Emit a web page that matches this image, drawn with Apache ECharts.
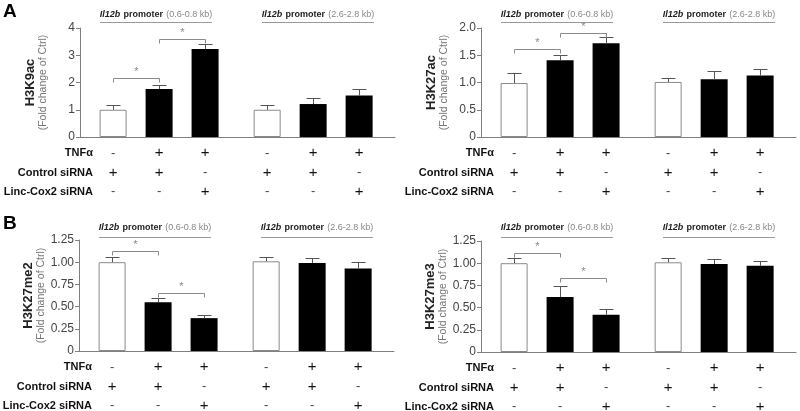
<!DOCTYPE html>
<html>
<head>
<meta charset="utf-8">
<style>
  html, body { margin: 0; padding: 0; background: #fff; }
  #chart { width: 800px; height: 411px; }
</style>
<script src="https://cdn.jsdelivr.net/npm/echarts@6/dist/echarts.min.js"></script>
</head>
<body>
<div id="chart"></div>
<script>
// treatment rows shown under the bars
const rowNames = ['TNFα', 'Control siRNA', 'Linc-Cox2 siRNA'];
const tnf = ['-', '+', '+', '-', '+', '+'];
const ctrlSirna = ['+', '+', '-', '+', '+', '-'];
const lincSirna = ['-', '-', '+', '-', '-', '+'];
const promoterRegions = ['(0.6-0.8 kb)', '(2.6-2.8 kb)'];

// fold change of Ctrl: mean and upper error
const h3k9acMean = [1.0, 1.76, 3.23, 1.0, 1.21, 1.52];
const h3k9acErr = [0.17, 0.15, 0.18, 0.17, 0.22, 0.24];
const h3k27acMean = [0.99, 1.41, 1.72, 1.01, 1.06, 1.13];
const h3k27acErr = [0.18, 0.1, 0.11, 0.08, 0.16, 0.12];
const h3k27me2Mean = [1.0, 0.55, 0.37, 1.01, 0.99, 0.93];
const h3k27me2Err = [0.06, 0.045, 0.03, 0.05, 0.06, 0.07];
const h3k27me3Mean = [1.0, 0.62, 0.42, 1.01, 0.99, 0.97];
const h3k27me3Err = [0.06, 0.12, 0.06, 0.05, 0.06, 0.06];

// significance brackets: [from bar, to bar, height]
const h3k9acSig = [[0, 1, 2.17], [1, 2, 3.6]];
const h3k27acSig = [[0, 1, 1.62], [1, 2, 1.91]];
const h3k27me2Sig = [[0, 1, 1.13], [1, 2, 0.65]];
const h3k27me3Sig = [[0, 1, 1.12], [1, 2, 0.83]];

// y tick labels
const h3k9acTicks = ['0', '1', '2', '3', '4'];
const h3k27acTicks = ['0', '0.5', '1.0', '1.5', '2.0'];
const h3k27me2Ticks = ['0', '0.25', '0.50', '0.75', '1.00', '1.25'];
const h3k27me3Ticks = ['0', '0.25', '0.50', '0.75', '1.00', '1.25'];

const panels = [
  { name: 'H3K9ac', mean: h3k9acMean, err: h3k9acErr, sig: h3k9acSig, ticks: h3k9acTicks, step: 1,
    letter: 'A', left: 80, top: 28, height: 109, headY: 15, lineY: 22 },
  { name: 'H3K27ac', mean: h3k27acMean, err: h3k27acErr, sig: h3k27acSig, ticks: h3k27acTicks, step: 0.5,
    letter: '', left: 481, top: 28, height: 109, headY: 15, lineY: 22 },
  { name: 'H3K27me2', mean: h3k27me2Mean, err: h3k27me2Err, sig: h3k27me2Sig, ticks: h3k27me2Ticks, step: 0.25,
    letter: 'B', left: 79, top: 240, height: 111, headY: 228, lineY: 237 },
  { name: 'H3K27me3', mean: h3k27me3Mean, err: h3k27me3Err, sig: h3k27me3Sig, ticks: h3k27me3Ticks, step: 0.25,
    letter: '', left: 481, top: 241, height: 111, headY: 228, lineY: 237 }
];

const GRID_W = 315;
const X_MAX = 6.85;
// bar slot position on the x axis, with a wider gap between the two promoter groups
function xPos(i) {
  return 0.72 + i + (i >= 3 ? 0.35 : 0);
}

const chart = echarts.init(document.getElementById('chart'), null, { renderer: 'canvas' });
const FONT = 'Liberation Sans, Arial, sans-serif';
const axisColor = '#808080';

const grid = [], xAxis = [], yAxis = [], series = [];
panels.forEach((p, k) => {
  grid.push({ left: p.left, top: p.top, width: GRID_W, height: p.height, containLabel: false });
  xAxis.push({
    type: 'value', gridIndex: k, min: 0, max: X_MAX,
    axisLine: { show: true, lineStyle: { color: axisColor } },
    axisTick: { show: false }, axisLabel: { show: false }, splitLine: { show: false }
  });
  yAxis.push({
    type: 'value', gridIndex: k, min: 0, max: p.step * (p.ticks.length - 1), interval: p.step,
    axisLine: { show: true, lineStyle: { color: axisColor } },
    axisTick: { show: true, inside: false, length: 4, lineStyle: { color: axisColor } },
    axisLabel: {
      fontFamily: FONT, fontSize: 12, color: '#444', margin: 5,
      formatter: (v) => p.ticks[Math.round(v / p.step)]
    },
    splitLine: { show: false },
    name: '{a|' + p.name + '}\n{b|(Fold change of Ctrl)}',
    nameLocation: 'middle', nameRotate: 90, nameGap: 31,
    nameTextStyle: {
      fontFamily: FONT,
      rich: {
        a: { fontFamily: FONT, fontSize: 13, fontWeight: 'bold', color: '#222', lineHeight: 14, align: 'center' },
        b: { fontFamily: FONT, fontSize: 10.5, color: '#777', lineHeight: 12, align: 'center' }
      }
    }
  });

  series.push({
    type: 'bar', xAxisIndex: k, yAxisIndex: k, barWidth: 27, silent: true,
    data: p.mean.map((v, i) => ({
      value: [xPos(i), v],
      itemStyle: i % 3 === 0
        ? { color: '#fff', borderColor: '#8a8a8a', borderWidth: 1 }
        : { color: '#000' }
    }))
  });

  // upper error bars
  series.push({
    type: 'custom', xAxisIndex: k, yAxisIndex: k, silent: true, z: 3,
    data: p.mean.map((v, i) => [xPos(i), v, v + p.err[i]]),
    renderItem: (params, api) => {
      const base = api.coord([api.value(0), api.value(1)]);
      const top = api.coord([api.value(0), api.value(2)]);
      const x = Math.round(base[0]) + 0.5;
      const yt = Math.round(top[1]) + 0.5;
      return {
        type: 'group',
        children: [
          { type: 'line', shape: { x1: x, y1: base[1], x2: x, y2: yt }, style: { stroke: '#555', lineWidth: 1 } },
          { type: 'line', shape: { x1: x - 7, y1: yt, x2: x + 7, y2: yt }, style: { stroke: '#555', lineWidth: 1 } }
        ]
      };
    }
  });

  // significance brackets
  series.push({
    type: 'custom', xAxisIndex: k, yAxisIndex: k, silent: true, z: 4,
    data: p.sig.map(s => [xPos(s[0]), xPos(s[1]), s[2]]),
    renderItem: (params, api) => {
      const a = api.coord([api.value(0), api.value(2)]);
      const b = api.coord([api.value(1), api.value(2)]);
      const y = Math.round(a[1]) + 0.5;
      const x1 = Math.round(a[0]) + 0.5, x2 = Math.round(b[0]) + 0.5;
      return {
        type: 'group',
        children: [
          { type: 'polyline', shape: { points: [[x1, y + 4], [x1, y], [x2, y], [x2, y + 4]] },
            style: { stroke: '#8a8a8a', lineWidth: 1, fill: null } },
          { type: 'text', style: { text: '*', x: (x1 + x2) / 2, y: y - 1, align: 'center', verticalAlign: 'bottom',
            fill: '#888', font: '11px ' + FONT } }
        ]
      };
    }
  });
});

chart.setOption({
  animation: false,
  backgroundColor: '#fff',
  grid: grid,
  xAxis: xAxis,
  yAxis: yAxis,
  series: series
});

// header, row labels and +/- table, placed from the axes' own scales
const graphic = [];
panels.forEach((p, k) => {
  if (p.letter) {
    graphic.push({ type: 'text', left: 3, top: p.top - 26, style: {
      text: p.letter, font: 'bold 19px ' + FONT, fill: '#000' } });
  }
  const groupX = [p.left + 76, p.left + 238];
  promoterRegions.forEach((r, g) => {
    graphic.push({ type: 'text', x: groupX[g], y: p.headY, style: {
      text: '{i|Il12b} {b|promoter} {g|' + r + '}',
      align: 'center', verticalAlign: 'middle',
      rich: {
        i: { fontFamily: FONT, fontSize: 9, fontWeight: 'bold', fontStyle: 'italic', fill: '#222' },
        b: { fontFamily: FONT, fontSize: 9, fontWeight: 'bold', fill: '#222' },
        g: { fontFamily: FONT, fontSize: 9, fill: '#888' }
      }
    } });
    graphic.push({ type: 'line', shape: { x1: groupX[g] - 56, y1: p.lineY + 0.5, x2: groupX[g] + 56, y2: p.lineY + 0.5 },
      style: { stroke: '#9a9a9a', lineWidth: 1 } });
  });

  const zeroY = chart.convertToPixel({ gridIndex: k }, [0, 0])[1];
  const rowY = [zeroY + 16, zeroY + 35.5, zeroY + 54.5];
  const rows = [tnf, ctrlSirna, lincSirna];
  rowNames.forEach((name, r) => {
    graphic.push({ type: 'text', x: p.left + 13, y: rowY[r], style: {
      text: name, align: 'right', verticalAlign: 'middle', font: 'bold 11px ' + FONT, fill: '#111' } });
    rows[r].forEach((s, i) => {
      const px = chart.convertToPixel({ gridIndex: k }, [xPos(i), 0])[0];
      graphic.push({ type: 'text', x: px, y: rowY[r], style: {
        text: s, align: 'center', verticalAlign: 'middle',
        font: (s === '+' ? '15px ' : '13px ') + FONT, fill: s === '+' ? '#111' : '#444' } });
    });
  });
});

chart.setOption({ graphic: graphic });
</script>
</body>
</html>
